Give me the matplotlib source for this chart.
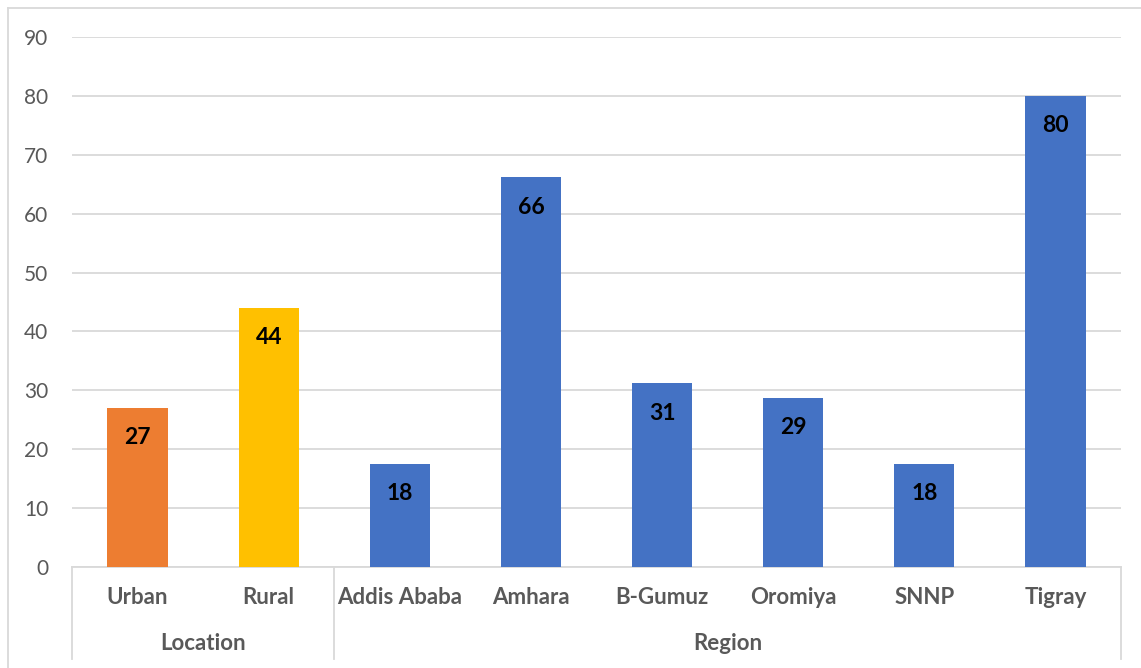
import matplotlib.pyplot as plt
from matplotlib.lines import Line2D
from matplotlib.transforms import blended_transform_factory

categories = ["Urban", "Rural", "Addis Ababa", "Amhara", "B-Gumuz", "Oromiya", "SNNP", "Tigray"]
values = [27, 44, 17.5, 66.2, 31.2, 28.7, 17.5, 80]
groups = ["Location", "Region"]
group_sizes = [2, 6]
colors = ["#ED7D31", "#FFC000"] + ["#4472C4"] * 6

W, H = 1141, 668
fig = plt.figure(figsize=(W / 100, H / 100), dpi=100)
fig.patch.set_facecolor("white")
plt.rcParams["font.family"] = ["Lato", "DejaVu Sans"]

left, right, top, bottom = 72, 1121, 37, 567
ax = fig.add_axes([left / W, (H - bottom) / H, (right - left) / W, (bottom - top) / H])

x = list(range(len(categories)))
bars = ax.bar(x, values, width=0.46, color=colors, zorder=3)
for b, v in zip(bars, values):
    ax.annotate(f"{v:.0f}", (b.get_x() + b.get_width() / 2, v), xytext=(0, -30),
                textcoords="offset pixels", ha="center", va="center",
                fontsize=16.5, fontweight="bold", color="black", zorder=4)

ax.set_xlim(-0.5, len(categories) - 0.5)
ax.set_ylim(0, 90)
ax.set_yticks(range(0, 91, 10))
ax.tick_params(axis="y", length=0, labelsize=15, labelcolor="#595959", pad=17)
ax.set_xticks([])
ax.grid(axis="y", color="#D9D9D9", linewidth=1.3, zorder=0)
for s in ax.spines.values():
    s.set_visible(False)

# two-level category axis
trans = blended_transform_factory(ax.transData, ax.transAxes)
px = 1.0 / (bottom - top)
line_kw = dict(color="#D9D9D9", linewidth=1.3, clip_on=False)
ax.add_line(Line2D([-0.5, len(categories) - 0.5], [0, 0], transform=trans, **line_kw))
for c, name in enumerate(categories):
    ax.text(c, -31 * px, name, transform=trans, ha="center", va="center",
            fontsize=16, fontweight="bold", color="#595959")
start = -0.5
for g, n in zip(groups, group_sizes):
    ax.add_line(Line2D([start, start], [0, -92 * px], transform=trans, **line_kw))
    ax.text(start + n / 2, -77 * px, g, transform=trans, ha="center", va="center",
            fontsize=16, fontweight="bold", color="#595959")
    start += n
ax.add_line(Line2D([start, start], [0, -92 * px], transform=trans, **line_kw))

# chart frame (only top and left edges visible)
fig.add_artist(Line2D([8 / W, 8 / W], [0, 1 - 8 / H], color="#D9D9D9", linewidth=1.3))
fig.add_artist(Line2D([8 / W, 1], [1 - 8 / H, 1 - 8 / H], color="#D9D9D9", linewidth=1.3))

plt.savefig("out.png", dpi=100)
